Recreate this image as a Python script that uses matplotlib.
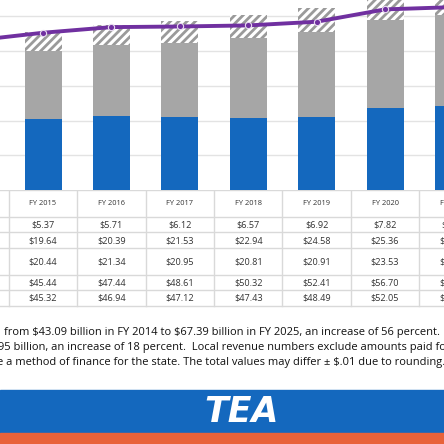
import matplotlib
matplotlib.use("Agg")
import matplotlib.pyplot as plt
from matplotlib.patches import Rectangle

plt.rcParams['text.parse_math'] = False

years = [2014, 2015, 2016, 2017, 2018, 2019, 2020, 2021]
hatched = [5.0, 5.37, 5.71, 6.12, 6.57, 6.92, 7.82, 8.0]
state = [18.5, 19.64, 20.39, 21.53, 22.94, 24.58, 25.36, 26.2]
local = [19.6, 20.44, 21.34, 20.95, 20.81, 20.91, 23.53, 24.2]
total = [43.1, 45.44, 47.44, 48.61, 50.32, 52.41, 56.70, 58.4]
line_vals = [43.09, 45.32, 46.94, 47.12, 47.43, 48.49, 52.05, 52.7]
col_labels = ["FY %d" % y for y in years]
row1 = ["$5.00", "$5.37", "$5.71", "$6.12", "$6.57", "$6.92", "$7.82", "$8.00"]
row2 = ["$18.50", "$19.64", "$20.39", "$21.53", "$22.94", "$24.58", "$25.36", "$26.20"]
row3 = ["$19.60", "$20.44", "$21.34", "$20.95", "$20.81", "$20.91", "$23.53", "$24.20"]
row4 = ["$43.10", "$45.44", "$47.44", "$48.61", "$50.32", "$52.41", "$56.70", "$58.40"]
row5 = ["$43.09", "$45.32", "$46.94", "$47.12", "$47.43", "$48.49", "$52.05", "$52.70"]
notes = ["from $43.09 billion in FY 2014 to $67.39 billion in FY 2025, an increase of 56 percent.  W",
         "95 billion, an increase of 18 percent.  Local revenue numbers exclude amounts paid for r",
         "e a method of finance for the state. The total values may differ \u00b1 $.01 due to rounding."]

W = H = 444
fig = plt.figure(figsize=(4.44, 4.44), dpi=100)
xs = [y - 2015 for y in years]
xl = (-43 / 68.4, (444 - 43) / 68.4)

def ax_px(top, bottom):
    return fig.add_axes([0, 1 - bottom / H, 1, (bottom - top) / H])

ax = ax_px(0, 190)
ax.set_xlim(*xl)
ax.set_ylim(0, 190 / 3.47)
for g in range(10, 60, 10):
    ax.axhline(g, color="#e3e3e3", lw=1, zorder=0)
bw = 37 / 68.4
ax.bar(xs, local, bw, color="#1468BE", zorder=2)
ax.bar(xs, state, bw, bottom=local, color="#A6A6A6", zorder=2)
bot2 = [a + b for a, b in zip(local, state)]
plt.rcParams['hatch.color'] = '#9a9a9a'
plt.rcParams['hatch.linewidth'] = 2.0
ax.bar(xs, hatched, bw, bottom=bot2, color="white", edgecolor="#9a9a9a", hatch="////", lw=0, zorder=2)
ax.plot(xs, line_vals, color="#7030A0", lw=2.8, marker="o", ms=4.5, mfc="#7030A0", mec="#e8dcf0", mew=0.8, zorder=3)
ax.axis("off")

tx = ax_px(190, 308)
tx.set_xlim(*xl)
tx.set_ylim(308, 190)
tx.axis("off")
hlines = [190, 217, 232, 248, 275, 290, 306]
for h in hlines:
    tx.plot([-1.5, 7], [h, h], color="#d9d9d9", lw=1)
for i in xs:
    tx.plot([i - 0.5, i - 0.5], [190, 306], color="#d9d9d9", lw=1)
rows = [col_labels, row1, row2, row3, row4, row5]
ys = [203.5, 224.5, 240.5, 261.5, 282.5, 298]
for r, yy in zip(rows, ys):
    for i, s in zip(xs, r):
        tx.text(i, yy, s, ha="center", va="center", fontsize=5.4 if r is col_labels else 6.6,
                color="#333333", family="Open Sans")

for k, s in enumerate(notes):
    fig.text([4 / W, -2 / W, -3 / W][k], 1 - [332, 347, 362][k] / H, s, fontsize=8.0,
             va="center", ha="left", color="#111111", family="Open Sans")

fig.patches.append(Rectangle((0, 1 - 433 / H), 1, 43 / H, transform=fig.transFigure, color="#1468BE"))
fig.patches.append(Rectangle((0, 0), 1, 11 / H, transform=fig.transFigure, color="#E8623A"))
fig.text(242 / W, 1 - 412 / H, "TEA", fontsize=25, fontweight="bold", style="italic", color="white",
         ha="center", va="center", family="DejaVu Sans")

fig.savefig("out.png", dpi=100)
